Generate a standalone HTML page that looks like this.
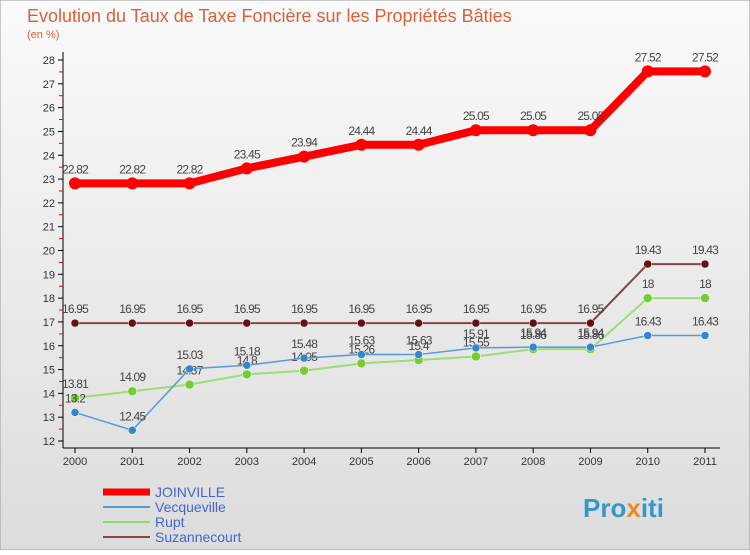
<!DOCTYPE html>
<html><head><meta charset="utf-8"><style>
body{margin:0;width:750px;height:550px;overflow:hidden;font-family:"Liberation Sans",sans-serif;}
</style></head><body>
<svg width="750" height="550" xmlns="http://www.w3.org/2000/svg" id="svg">
<defs><linearGradient id="bg" x1="0" y1="0" x2="0" y2="1"><stop offset="0" stop-color="#fafafa"/><stop offset="1" stop-color="#dcdcdc"/></linearGradient></defs>
<rect x="0" y="0" width="750" height="550" fill="url(#bg)" stroke="#999"/>
<text x="27" y="22" font-size="18" fill="#d9603a">Evolution du Taux de Taxe Foncière sur les Propriétés Bâties</text>
<text x="27" y="38" font-size="11" fill="#d9603a">(en %)</text>
<g id="axes"></g><g id="plot"></g>
<g>
<line x1="103" y1="492" x2="150" y2="492" stroke="#f00" stroke-width="7"/><text x="155" y="497" font-size="14" fill="#4466cc">JOINVILLE</text>
<line x1="103" y1="507" x2="150" y2="507" stroke="#5599dd" stroke-width="2"/><text x="155" y="512" font-size="14" fill="#4466cc">Vecqueville</text>
<line x1="103" y1="522" x2="150" y2="522" stroke="#88dd66" stroke-width="2"/><text x="155" y="527" font-size="14" fill="#4466cc">Rupt</text>
<line x1="103" y1="537" x2="150" y2="537" stroke="#884444" stroke-width="2"/><text x="155" y="542" font-size="14" fill="#4466cc">Suzannecourt</text>
</g>
<text x="583" y="517" font-size="26" font-weight="bold" fill="#3399cc">Pro<tspan fill="#ee8822">x</tspan>iti</text>
</svg>
<script>
const years=["2000","2001","2002","2003","2004","2005","2006","2007","2008","2009","2010","2011"];
const joinville=[22.82,22.82,22.82,23.45,23.94,24.44,24.44,25.05,25.05,25.05,27.52,27.52];
const vecqueville=[13.2,12.45,15.03,15.18,15.48,15.63,15.63,15.91,15.94,15.94,16.43,16.43];
const rupt=[13.81,14.09,14.37,14.8,14.95,15.26,15.4,15.55,15.86,15.86,18,18];
const suzannecourt=[16.95,16.95,16.95,16.95,16.95,16.95,16.95,16.95,16.95,16.95,19.43,19.43];
const yTicks=[12,13,14,15,16,17,18,19,20,21,22,23,24,25,26,27,28];
const NS="http://www.w3.org/2000/svg";
const X=i=>75+i*(630/11), Y=v=>441-(v-12)*(381/16);
function mk(t,a,p){const e=document.createElementNS(NS,t);for(const k in a)e.setAttribute(k,a[k]);p.appendChild(e);return e;}
const ax=document.getElementById('axes'), pl=document.getElementById('plot');
const yl=mk('line',{x1:63,y1:52,x2:63,y2:448,stroke:'#000'},ax);

const xl=mk('line',{x1:63,y1:448,x2:720,y2:448,stroke:'#000'},ax);

yTicks.forEach(v=>{const y=Y(v);mk('line',{x1:58,y1:y,x2:63,y2:y,stroke:'#000'},ax);
 if(v<28)mk('line',{x1:59,y1:y-381/32,x2:63,y2:y-381/32,stroke:'#e00'},ax);
 const t=mk('text',{x:55,y:y+4,'font-size':11,'text-anchor':'end',fill:'#333'},ax);t.textContent=v;
 });
years.forEach((yr,i)=>{mk('line',{x1:X(i),y1:448,x2:X(i),y2:453,stroke:'#000'},ax);
 const t=mk('text',{x:X(i),y:465,'font-size':11,'text-anchor':'middle',fill:'#333'},ax);t.textContent=yr;
 });
function series(name,data,col,w,r,dot){const g=mk('g',{},pl);
 
 mk('polyline',{points:data.map((v,i)=>X(i)+','+Y(v)).join(' '),fill:'none',stroke:col,'stroke-width':w,'stroke-linejoin':'round'},g);
 data.forEach((v,i)=>{const c=mk('circle',{cx:X(i),cy:Y(v),r:r,fill:dot,stroke:dot==col?'none':'#fff','stroke-width':0.5},g);
  
  const t=mk('text',{x:X(i),y:Y(v)-10,'font-size':12,'text-anchor':'middle',fill:'#444','letter-spacing':'-0.8'},g);t.textContent=v;
  });}
series('suzannecourt',suzannecourt,'#884444',2,4,'#661111');
series('rupt',rupt,'#99dd77',2,4.5,'#77cc33');
series('vecqueville',vecqueville,'#5599dd',1.5,4,'#3388cc');
series('joinville',joinville,'#ff0000',8,6,'#ff0000');
</script>
</body></html>
